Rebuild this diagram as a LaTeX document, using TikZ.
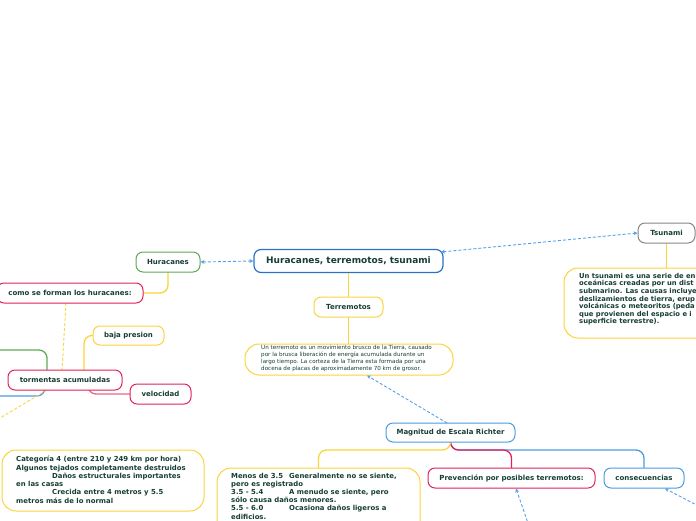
\documentclass[tikz,border=0pt]{standalone}
\usepackage{fontspec}
\setmainfont{DejaVu Sans}
\usetikzlibrary{arrows.meta}
\definecolor{txt}{RGB}{22,62,52}
\definecolor{cblue}{RGB}{75,155,228}
\definecolor{cdblue}{RGB}{40,115,200}
\definecolor{cgreen}{RGB}{95,170,85}
\definecolor{cyel}{RGB}{250,212,60}
\definecolor{cpink}{RGB}{225,35,90}
\definecolor{cgray}{RGB}{135,135,135}
\definecolor{cab}{RGB}{85,160,235}
\begin{document}
\begin{tikzpicture}[x=1pt,y=-1pt,
  lbl/.style={draw, rounded corners=7pt, line width=1pt, fill=white, text=txt,
    font=\fontsize{7}{8}\selectfont\bfseries, inner sep=0pt},
  bigbox/.style={draw=cyel, rounded corners=14pt, line width=1pt, fill=white, inner sep=0pt},
  para/.style={anchor=north west, inner sep=0pt, text=txt, align=left},
  conn/.style={line width=1.3pt, rounded corners=8pt},
  darr/.style={draw=cab, line width=0.9pt, dash pattern=on 3pt off 2pt},
  tip/.style={-{Stealth[length=4pt,width=4pt]}},
  tips/.style={{Stealth[length=4pt,width=4pt]}-{Stealth[length=4pt,width=4pt]}}]
\useasboundingbox (0,0) rectangle (696,520);
\clip (0,0) rectangle (696,520);

% off-canvas ends
\coordinate (greenend) at (-5,350);
\coordinate (blueend) at (-5,396);
\coordinate (yelend) at (-10,424);
\coordinate (prevsrc) at (529,526);
\coordinate (consrc) at (708,511);

% boxes
\node[bigbox, minimum width=208pt, minimum height=31pt] (tbox) at (349,359.5) {};
\node[bigbox, minimum width=158pt, minimum height=70pt] (tsbox) at (643,303) {};
\node[bigbox, minimum width=202pt, minimum height=61pt] (catbox) at (103,480.5) {};
\node[bigbox, minimum width=203pt, minimum height=76pt] (menbox) at (318.5,506) {};

% connectors (solid)
\draw[cyel, line width=1pt] (348.5,272) -- (348.5,297);
\draw[cyel, line width=0.8pt] (348.5,317) -- (348.5,344);
\draw[cyel, line width=0.8pt] (666.5,243) -- (666.5,268);
\draw[cyel, conn] (168,272) |- (143,293);
\draw[cyel, conn] (84,370) |- (93,335.5);
\draw[cpink!70, conn] (88,390) |- (130,394);
\draw[cgreen, conn] (47,370) |- (greenend);
\draw[cblue, conn] (45,390) |- (blueend);
\draw[cyel, line width=0.9pt, dash pattern=on 3pt off 2pt] (66,303) -- (62,370);
\draw[cyel, line width=0.9pt, dash pattern=on 3pt off 2pt] (47,390) -- (yelend);

\draw[cblue, conn] (450.5,442) |- (644,450) -- (644,468);
\draw[cpink, conn] (450.5,442) |- (511.5,450) -- (511.5,468);
\draw[cyel, conn] (450.5,442) |- (318.5,450) -- (318.5,468);

% label nodes
\node[lbl, draw=cdblue, line width=1.2pt, minimum width=189pt, minimum height=23pt,
  font=\fontsize{9}{10}\selectfont\bfseries] (central) at (348.5,261) {Huracanes, terremotos, tsunami};
\node[lbl, draw=cgreen, minimum width=64pt, minimum height=20pt] (hur) at (168,262) {Huracanes};
\node[lbl, draw=cgray, minimum width=57pt, minimum height=20pt] (tsu) at (666.5,233) {Tsunami};
\node[lbl, draw=cyel, minimum width=69pt, minimum height=20pt] (terr) at (348.5,307) {Terremotos};
\node[lbl, draw=cpink, minimum width=146pt, minimum height=20pt] (como) at (70,293) {como se forman los huracanes:};
\node[lbl, draw=cyel, minimum width=71pt, minimum height=19pt] (baja) at (128.5,335.5) {baja presion};
\node[lbl, draw=cpink, minimum width=114pt, minimum height=20pt] (torm) at (65,380) {tormentas acumuladas};
\node[lbl, draw=cpink, minimum width=61pt, minimum height=20pt] (velo) at (160.5,394) {velocidad};
\node[lbl, draw=cblue, minimum width=129pt, minimum height=19pt] (mag) at (450.5,432.5) {Magnitud de Escala Richter};
\node[lbl, draw=cpink, minimum width=167pt, minimum height=20pt] (prev) at (511.5,478) {Prevención por posibles terremotos:};
\node[lbl, draw=cblue, minimum width=80pt, minimum height=20pt] (cons) at (644,478) {consecuencias};

% paragraph texts
\node[para, font=\fontsize{5.6}{6.75}\selectfont] (ttext) at (261,345.5)
 {Un terremoto es un movimiento brusco de la Tierra, causado\\
  por la brusca liberación de energía acumulada durante un\\
  largo tiempo. La corteza de la Tierra esta formada por una\\
  docena de placas de aproximadamente 70 km de grosor.};
\node[para, font=\fontsize{6.8}{7.55}\selectfont\bfseries] (tstext) at (579,273)
 {Un tsunami es una serie de en\\
  oceánicas creadas por un dist\\
  submarino. Las causas incluye\\
  deslizamientos de tierra, erup\\
  volcánicas o meteoritos (peda\\
  que provienen del espacio e i\\
  superficie terrestre).};
\node[para, font=\fontsize{6.9}{8.3}\selectfont\bfseries] (cattext) at (16,456)
 {Categoría 4 (entre 210 y 249 km por hora)\\
  Algunos tejados completamente destruidos\\
  \hspace*{36pt}Daños estructurales importantes\\
  en las casas\\
  \hspace*{36pt}Crecida entre 4 metros y 5.5\\
  metros más de lo normal};
\node[para, font=\fontsize{6.9}{8.2}\selectfont\bfseries] (mentext) at (231,472.6)
 {\makebox[58pt][l]{Menos de 3.5}Generalmente no se siente,\\
  pero es registrado\\
  \makebox[58pt][l]{3.5 - 5.4}A menudo se siente, pero\\
  sólo causa daños menores.\\
  \makebox[58pt][l]{5.5 - 6.0}Ocasiona daños ligeros a\\
  edificios.};

% dashed relation arrows
\draw[darr, tips] (hur.east) -- (central.west);
\draw[darr, tips] (441,252) -- (tsu.west);
\draw[darr, tip] (447,423) -- (367,375.5);
\draw[darr, tip] (prevsrc) -- (516,488.5);
\draw[darr, tip] (consrc) -- (665,488.5);
\end{tikzpicture}
\end{document}
